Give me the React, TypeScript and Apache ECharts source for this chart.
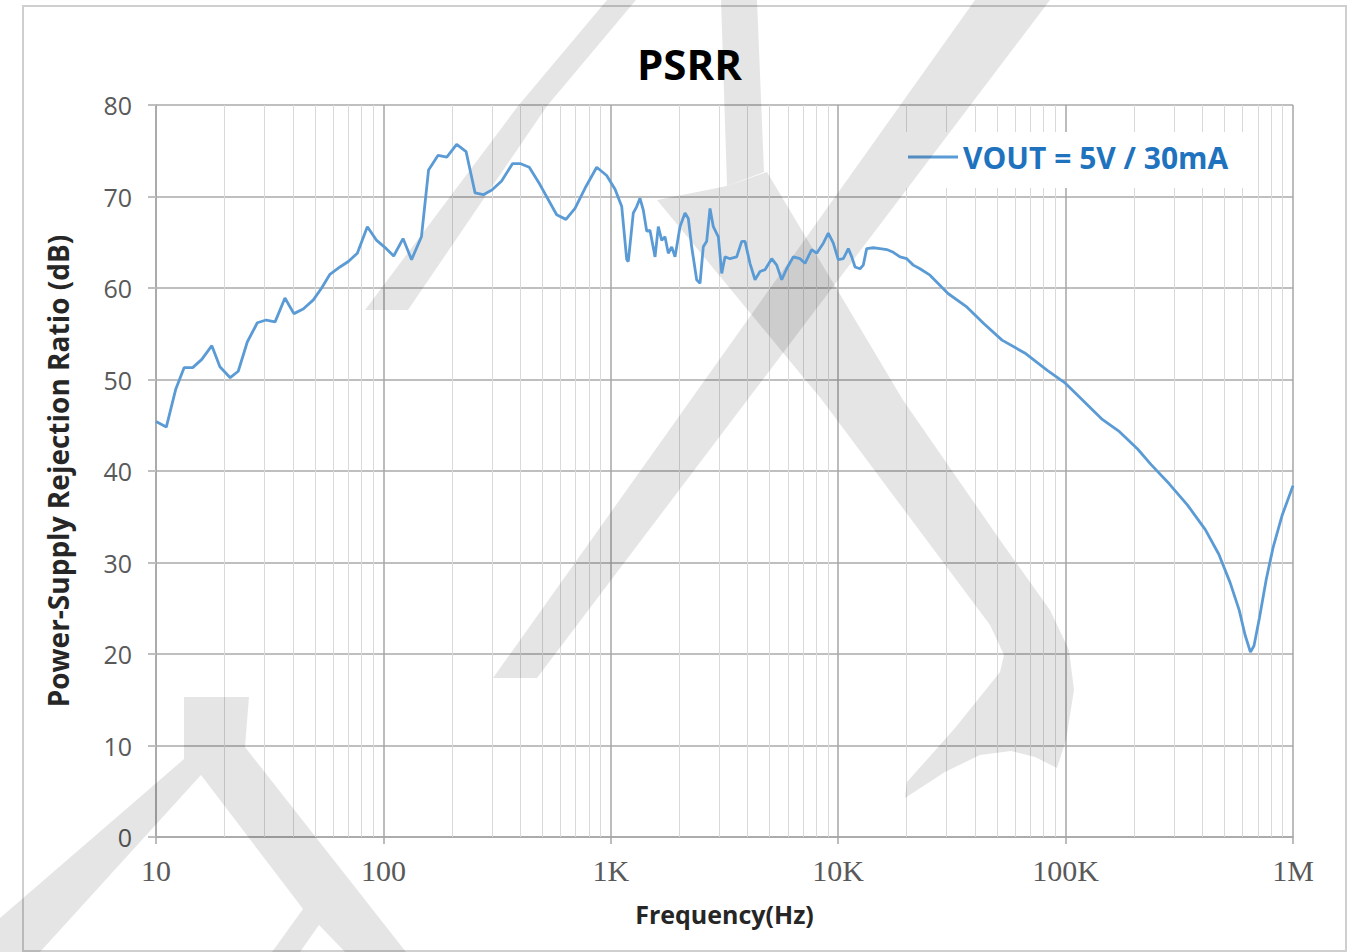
import { useEffect, useRef } from "react";
import * as echarts from "echarts";

const freqHz = [
  10, 11.1, 12.2, 13.3, 14.5, 15.9, 17.6, 19.1, 21.2, 23.0, 25.2, 27.9, 30.5, 33.4, 36.9, 40.4, 44.4, 49.2,
  53.5, 58.2, 64.4, 70.1, 76.8, 85.0, 93.4, 103, 111, 122, 133, 147, 158, 174, 190, 210, 231, 253, 275, 300,
  331, 370, 399, 438, 488, 578, 635, 696, 770, 867, 959, 1044, 1117, 1175, 1194, 1256, 1300, 1344, 1390,
  1439, 1487, 1565, 1618, 1674, 1731, 1790, 1853, 1916, 2015, 2120, 2192, 2268, 2386, 2468, 2551, 2640,
  2731, 2824, 2971, 3075, 3179, 3344, 3578, 3764, 3892, 4093, 4307, 4531, 4765, 5101, 5364, 5642, 5934,
  6345, 6792, 7145, 7646, 8042, 8601, 9047, 9515, 10010, 10530, 11080, 11470, 11860, 12470, 12890, 13340,
  14270, 15270, 16350, 17470, 18700, 20010, 21390, 22890, 25330, 30400, 36480, 43770, 52530, 66100, 83090,
  99700, 111800, 143900, 172600, 207300, 237700, 285500, 343000, 411500, 471800, 529000, 580000, 615100,
  649800, 673800, 712400, 763200, 816600, 894300, 1000000,
];

const psrrDb = [
  45.4, 44.8, 48.9, 51.3, 51.3, 52.2, 53.7, 51.4, 50.2, 50.9, 54.1, 56.2, 56.5, 56.3, 58.9, 57.2, 57.7, 58.7,
  60.0, 61.5, 62.3, 62.9, 63.8, 66.7, 65.2, 64.3, 63.5, 65.4, 63.1, 65.6, 72.9, 74.5, 74.3, 75.7, 74.9, 70.4,
  70.2, 70.7, 71.7, 73.6, 73.6, 73.2, 71.3, 68.0, 67.5, 68.7, 70.9, 73.2, 72.3, 70.8, 68.9, 63.1, 62.9, 68.2,
  68.9, 69.8, 68.5, 66.2, 66.3, 63.4, 66.7, 65.2, 65.6, 63.8, 64.5, 63.4, 66.7, 68.2, 67.6, 64.5, 60.9, 60.5,
  64.5, 65.1, 68.7, 66.7, 65.6, 61.6, 63.4, 63.2, 63.4, 65.1, 65.1, 62.7, 60.9, 61.8, 62.0, 63.2, 62.5, 60.9,
  62.1, 63.4, 63.2, 62.7, 64.2, 63.8, 64.9, 66.0, 64.9, 63.1, 63.2, 64.3, 63.4, 62.3, 62.1, 62.5, 64.3, 64.4,
  64.3, 64.2, 63.9, 63.4, 63.2, 62.5, 62.1, 61.4, 59.4, 58.0, 56.1, 54.3, 52.9, 51.0, 49.6, 48.4, 45.7, 44.3,
  42.4, 40.7, 38.6, 36.3, 33.6, 30.9, 27.8, 24.8, 22.1, 20.2, 20.9, 24.0, 28.2, 31.6, 35.1, 38.4,
];

const seriesName = "VOUT = 5V / 30mA";
const decadeTicks = [10, 100, 1000, 10000, 100000, 1000000];
const decadeLabels = ["10", "100", "1K", "10K", "100K", "1M"];
const minorMultipliers = [2, 3, 4, 5, 6, 7, 8, 9];
const yMin = 0;
const yMax = 80;
const yStep = 10;

const minorFreqs: number[] = [];
decadeTicks.slice(0, -1).forEach((d) => minorMultipliers.forEach((m) => minorFreqs.push(d * m)));

const wm = "rgba(0,0,0,0.1)";
const watermark = [
  [[365, 310], [408, 310], [547, 106], [636, 0], [607, 0], [518, 106]],
  [[493, 678], [537, 678], [1050, 0], [975, 0]],
  [[721, 0], [757, 0], [764, 172], [727, 186]],
  [[657, 200], [727, 186], [767, 172], [903, 400], [1000, 540], [1050, 610], [1069, 650], [1074, 690],
   [1066, 740], [1057, 768], [1035, 757], [1011, 751], [980, 755], [945, 772], [905, 798], [907, 782],
   [955, 728], [1000, 672], [1004, 655], [990, 625], [822, 400]],
  [[184, 697], [249, 697], [245, 747], [406, 952], [345, 952], [319, 925], [300, 952], [272, 952],
   [303, 909], [201, 775], [40, 952], [0, 952], [0, 918], [184, 759]],
];

export default function App() {
  const ref = useRef<HTMLDivElement>(null);
  useEffect(() => {
    document.body.style.margin = "0";
    document.body.style.overflow = "hidden";
    const chart = echarts.init(ref.current!, undefined, { renderer: "svg" });
    const sans = "'Open Sans', 'Noto Sans', sans-serif";
    chart.setOption({
      animation: false,
      backgroundColor: "#ffffff",
      title: {
        text: "PSRR",
        left: 632,
        top: 37,
        textStyle: { fontFamily: sans, fontWeight: "bold", fontSize: 42, color: "#000000" },
        z: 19,
      },
      legend: {
        data: [seriesName],
        left: 898,
        top: 132,
        backgroundColor: "#ffffff",
        padding: [10, 12, 10, 10],
        icon: "rect",
        itemWidth: 50,
        itemHeight: 3,
        itemGap: 0,
        z: 16,
        textStyle: { fontFamily: sans, fontWeight: "bold", fontSize: 30, color: "#1f73be" },
      },
      grid: { left: 156, right: 64, top: 105, bottom: 115, containLabel: false },
      xAxis: {
        type: "log",
        logBase: 10,
        min: decadeTicks[0],
        max: decadeTicks[decadeTicks.length - 1],
        z: 1,
        name: "Frequency(Hz)",
        nameLocation: "middle",
        nameGap: 64,
        nameTextStyle: { fontFamily: sans, fontWeight: "bold", fontSize: 25, color: "#262626" },
        axisLine: { lineStyle: { color: "#a6a6a6", width: 1.5 } },
        axisTick: { show: true, length: 7, lineStyle: { color: "#a6a6a6", width: 1.5 } },
        axisLabel: {
          margin: 18,
          fontFamily: "'Liberation Serif', 'DejaVu Serif', serif",
          fontSize: 30,
          color: "#595959",
          formatter: (v: number) => {
            const i = decadeTicks.findIndex((t) => Math.abs(Math.log10(t) - Math.log10(v)) < 1e-6);
            return i >= 0 ? decadeLabels[i] : "";
          },
        },
        splitLine: { show: true, lineStyle: { color: "#a6a6a6", width: 1.5 } },
      },
      yAxis: {
        type: "value",
        min: yMin,
        max: yMax,
        interval: yStep,
        z: 1,
        name: "Power-Supply Rejection Ratio (dB)",
        nameLocation: "middle",
        nameGap: 84,
        nameTextStyle: { fontFamily: sans, fontWeight: "bold", fontSize: 28, color: "#262626" },
        axisLine: { show: true, lineStyle: { color: "#a6a6a6", width: 1.5 } },
        axisTick: { show: true, length: 8, lineStyle: { color: "#bfbfbf", width: 2 } },
        axisLabel: { margin: 24, fontFamily: sans, fontSize: 25, color: "#595959" },
        splitLine: { show: true, lineStyle: { color: "#bfbfbf", width: 2 } },
      },
      graphic: [
        {
          type: "rect",
          silent: true,
          z: 0,
          shape: { x: 23, y: 6, width: 1323, height: 945 },
          style: { fill: "none", stroke: "#cfcfcf", lineWidth: 2 },
        },
        {
          type: "rect",
          silent: true,
          z: 15,
          shape: { x: 900, y: 132, width: 345, height: 56 },
          style: { fill: "#ffffff" },
        },
        ...watermark.map((pts) => ({
          type: "polygon",
          silent: true,
          z: 17,
          shape: { points: pts },
          style: { fill: wm },
        })),
      ],
      series: [
        {
          type: "line",
          name: "minorGrid",
          data: [],
          z: 1,
          silent: true,
          markLine: {
            silent: true,
            symbol: ["none", "none"],
            label: { show: false },
            lineStyle: { color: "#d9d9d9", width: 1, type: "solid" },
            emphasis: { disabled: true },
            data: minorFreqs.map((f) => ({ xAxis: f })),
          },
        },
        {
          type: "line",
          name: seriesName,
          data: freqHz.map((f, i) => [f, psrrDb[i]]),
          showSymbol: false,
          symbol: "none",
          z: 18,
          lineStyle: { color: "#5b9bd5", width: 2.8 },
          itemStyle: { color: "#5b9bd5" },
        },
      ],
    });
    return () => chart.dispose();
  }, []);
  return <div ref={ref} style={{ width: "1357px", height: "952px" }} />;
}
